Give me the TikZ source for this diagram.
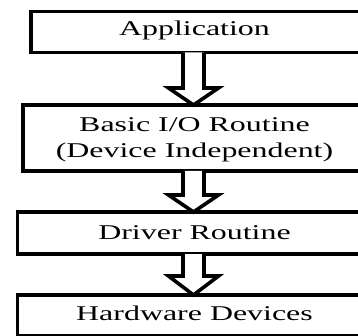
\documentclass[tikz,border=0pt]{standalone}
\usepackage{fontspec}
\setmainfont{Liberation Serif}
\usetikzlibrary{calc}

% wide-set label text
\newcommand\widetext[1]{\scalebox{1.52}[1]{#1}}

\begin{document}
\begin{tikzpicture}[x=1pt,y=-1pt,
  stagebox/.style={draw=black, line width=3.6pt, inner sep=0pt, outer sep=0pt,
                   anchor=north west, rectangle},
  stagelabel/.style={inner sep=0pt, anchor=base, font=\fontsize{21}{26}\selectfont},
  hollowarrow/.style={draw=black, line width=3.6pt, line join=miter, fill=white}]

\useasboundingbox (0,0) rectangle (358,336);
\clip (0,0) rectangle (358,336);

% the four layers
\node[stagebox, minimum width=339pt,  minimum height=41pt] (app) at (31,11.5) {};
\node[stagebox, minimum width=347pt,  minimum height=66pt] (bio) at (23,105) {};
\node[stagebox, minimum width=352.5pt, minimum height=42pt] (drv) at (17.5,212) {};
\node[stagebox, minimum width=352.5pt, minimum height=41pt] (hw)  at (17.5,295) {};

\node[stagelabel] (appT) at (194.5,36) {\widetext{Application}};
\node[stagelabel] (bioT) at (194.5,157.5)
  {\widetext{\begin{tabular}[b]{@{}c@{}}Basic I/O Routine\\(Device Independent)\end{tabular}}};
\node[stagelabel] (drvT) at (194.5,240) {\widetext{Driver Routine}};
\node[stagelabel] (hwT)  at (194.5,320) {\widetext{Hardware Devices}};

% vertical axis of the block arrows
\coordinate (axis) at (193.5,0);

% hollow block arrow between two boxes: #1 upper box, #2 lower box, #3 head length
\newcommand\blockarrow[3]{%
  \draw[hollowarrow] let \p1=(axis |- #1.south), \p2=(axis |- #2.north) in
    (\x1-10.5pt,\y1) -- (\x1-10.5pt,\y2+#3) -- (\x1-25pt,\y2+#3) -- (\x1,\y2)
    -- (\x1+25pt,\y2+#3) -- (\x1+10.5pt,\y2+#3) -- (\x1+10.5pt,\y1);}

\blockarrow{app}{bio}{17pt}
\blockarrow{bio}{drv}{17pt}
\blockarrow{drv}{hw}{19pt}

\end{tikzpicture}
\end{document}
